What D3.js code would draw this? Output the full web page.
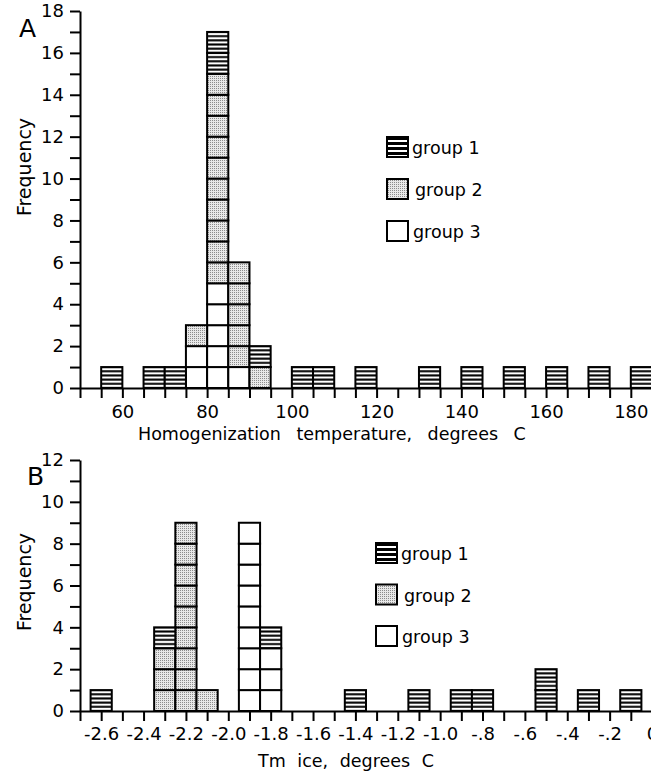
<!DOCTYPE html>
<html>
<head>
<meta charset="utf-8">
<script src="https://cdn.jsdelivr.net/npm/d3@7"></script>
<style>
body{margin:0;background:#fff;}
text{font-family:"DejaVu Sans",Verdana,sans-serif;fill:#000;}
</style>
</head>
<body>
<div id="chart"></div>
<script>
// panel A: homogenization temperature, bin start (bins 5 wide)
const tempBins=[55,65,70,75,80,85,90,100,105,115,130,140,150,160,170,180];
const tempG1=[1,1,1,0,2,0,1,1,1,1,1,1,1,1,1,1];
const tempG2=[0,0,0,1,10,5,1,0,0,0,0,0,0,0,0,0];
const tempG3=[0,0,0,2,5,1,0,0,0,0,0,0,0,0,0,0];
const tempTicks=[60,80,100,120,140,160,180];

// panel B: Tm ice, bin centre (bins 0.1 wide)
const tmBins=[-2.6,-2.3,-2.2,-2.1,-1.9,-1.8,-1.4,-1.1,-0.9,-0.8,-0.5,-0.3,-0.1];
const tmG1=[1,1,0,0,0,1,1,1,1,1,2,1,1];
const tmG2=[0,3,9,1,0,0,0,0,0,0,0,0,0];
const tmG3=[0,0,0,0,9,3,0,0,0,0,0,0,0];
const tmTicks=[-2.6,-2.4,-2.2,-2.0,-1.8,-1.6,-1.4,-1.2,-1.0,-0.8,-0.6,-0.4,-0.2,0];

const groups=[`group 1`,`group 2`,`group 3`];

const W=651,H=773;
let svg=d3.select(`#chart`).append(`svg`).attr(`width`,W).attr(`height`,H);
let defs=svg.append(`defs`);

//scales
let xA=d3.scaleLinear().domain([50,185]).range([80,652]);
let yA=d3.scaleLinear().domain([0,18]).range([388,11]);
let xB=d3.scaleLinear().domain([-2.7,0]).range([80,652]);
let yB=d3.scaleLinear().domain([0,12]).range([711,460]);

//stripes pattern, phase locked to the baseline of each panel
function stripes(id,y0,cell){
    let p=cell/5;
    let pat=defs.append(`pattern`).attr(`id`,id)
        .attr(`patternUnits`,`userSpaceOnUse`)
        .attr(`width`,10).attr(`height`,p)
        .attr(`y`,y0-p/2);
    pat.append(`rect`).attr(`width`,10).attr(`height`,p).attr(`fill`,`#fff`);
    pat.append(`rect`).attr(`y`,p/2-1).attr(`width`,10).attr(`height`,2).attr(`fill`,`#000`);
}
stripes(`stripeA`,yA(0),yA(0)-yA(1));
stripes(`stripeB`,yB(0),yB(0)-yB(1));

let bold=defs.append(`pattern`).attr(`id`,`stripeBold`)
    .attr(`patternUnits`,`objectBoundingBox`).attr(`width`,1).attr(`height`,0.25);
bold.append(`rect`).attr(`width`,30).attr(`height`,6).attr(`fill`,`#000`);
bold.append(`rect`).attr(`y`,3).attr(`width`,30).attr(`height`,2).attr(`fill`,`#fff`);

let dots=defs.append(`pattern`).attr(`id`,`dots`)
    .attr(`patternUnits`,`userSpaceOnUse`).attr(`width`,2).attr(`height`,2);
dots.append(`rect`).attr(`width`,2).attr(`height`,2).attr(`fill`,`#e8e8e8`);
dots.append(`rect`).attr(`width`,1).attr(`height`,1).attr(`fill`,`#8c8c8c`);

//draw stacked unit cells
function drawBars(bins,g1,g2,g3,x,y,left,right,stripeId){
    let rows=bins.map((b,i)=>({bin:b,g1:g1[i],g2:g2[i],g3:g3[i]}));
    let stack=d3.stack().keys([`g3`,`g2`,`g1`])(rows);
    let fills={g1:`url(#${stripeId})`,g2:`url(#dots)`,g3:`#fff`};
    let cells=[];
    stack.forEach(layer=>{
        layer.forEach(d=>{
            for(let k=d[0];k<d[1];k++) cells.push({bin:d.data.bin,k:k,key:layer.key});
        });
    });
    svg.append(`g`).attr(`class`,`bars`)
        .selectAll(`rect`).data(cells).enter().append(`rect`)
        .attr(`x`,d=>x(left(d.bin)))
        .attr(`width`,d=>x(right(d.bin))-x(left(d.bin)))
        .attr(`y`,d=>y(d.k+1))
        .attr(`height`,d=>y(d.k)-y(d.k+1))
        .attr(`fill`,d=>fills[d.key])
        .attr(`stroke`,`#000`).attr(`stroke-width`,2);
}
drawBars(tempBins,tempG1,tempG2,tempG3,xA,yA,b=>b,b=>b+5,`stripeA`);
drawBars(tmBins,tmG1,tmG2,tmG3,xB,yB,b=>b-0.05,b=>b+0.05,`stripeB`);

function styleAxis(g){
    g.selectAll(`path,line`).attr(`stroke`,`#000`).attr(`stroke-width`,2);
    g.selectAll(`text`).attr(`font-size`,18).attr(`fill`,`#000`)
        .attr(`font-family`,`"DejaVu Sans",Verdana,sans-serif`);
}

//panel A axes
svg.append(`g`).attr(`transform`,`translate(${xA.range()[0]},0)`)
    .call(d3.axisLeft(yA).tickValues(d3.range(0,19)).tickFormat(d=>d%2?``:d)
        .tickSize(10).tickSizeOuter(0).tickPadding(6))
    .call(styleAxis);
svg.append(`g`).attr(`transform`,`translate(0,${yA(0)})`)
    .call(d3.axisBottom(xA).tickValues(d3.range(50,186,5)).tickFormat(d=>tempTicks.includes(d)?d:``)
        .tickSize(10).tickSizeOuter(0).tickPadding(7))
    .call(styleAxis);

//panel B axes
function fmtTm(v){
    if(Math.abs(v)<1e-9) return `0`;
    let s=Math.abs(v).toFixed(1);
    if(s[0]==`0`) s=s.slice(1);
    return (v<0?`-`:``)+s;
}
let tmAll=d3.range(0,28).map(i=>+(-2.7+i*0.1).toFixed(1));
svg.append(`g`).attr(`transform`,`translate(${xB.range()[0]},0)`)
    .call(d3.axisLeft(yB).tickValues(d3.range(0,13)).tickFormat(d=>d%2?``:d)
        .tickSize(10).tickSizeOuter(0).tickPadding(6))
    .call(styleAxis);
svg.append(`g`).attr(`transform`,`translate(0,${yB(0)})`)
    .call(d3.axisBottom(xB).tickValues(tmAll)
        .tickFormat(d=>tmTicks.some(t=>Math.abs(t-d)<1e-6)?fmtTm(d):``)
        .tickSize(10).tickSizeOuter(0).tickPadding(6))
    .call(styleAxis);

//titles
svg.append(`text`).attr(`x`,19).attr(`y`,37).attr(`font-size`,25).text(`A`);
svg.append(`text`).attr(`x`,27).attr(`y`,485).attr(`font-size`,25).text(`B`);
svg.append(`text`).attr(`transform`,`translate(31,167) rotate(-90)`)
    .attr(`text-anchor`,`middle`).attr(`font-size`,19).text(`Frequency`);
svg.append(`text`).attr(`transform`,`translate(31,582) rotate(-90)`)
    .attr(`text-anchor`,`middle`).attr(`font-size`,19).text(`Frequency`);
svg.append(`text`).attr(`x`,138).attr(`y`,440).attr(`font-size`,17.5)
    .attr(`word-spacing`,10).text(`Homogenization temperature, degrees C`);
svg.append(`text`).attr(`x`,258).attr(`y`,767).attr(`font-size`,17.5)
    .attr(`word-spacing`,6).text(`Tm ice, degrees C`);

//legends
function legend(x,y,step){
    let fills=[`url(#stripeBold)`,`url(#dots)`,`#fff`];
    let lg=svg.append(`g`).attr(`class`,`legend`);
    groups.forEach((name,i)=>{
        lg.append(`rect`).attr(`x`,x).attr(`y`,y+i*step)
            .attr(`width`,21).attr(`height`,20)
            .attr(`fill`,fills[i]).attr(`stroke`,`#000`).attr(`stroke-width`,2);
        lg.append(`text`).attr(`x`,x+25+(i==1?3:i==2?1:0)).attr(`y`,y+i*step+17)
            .attr(`font-size`,17.5).text(name);
    });
}
legend(387,137,42);
legend(376,543,41.5);
</script>
</body>
</html>
